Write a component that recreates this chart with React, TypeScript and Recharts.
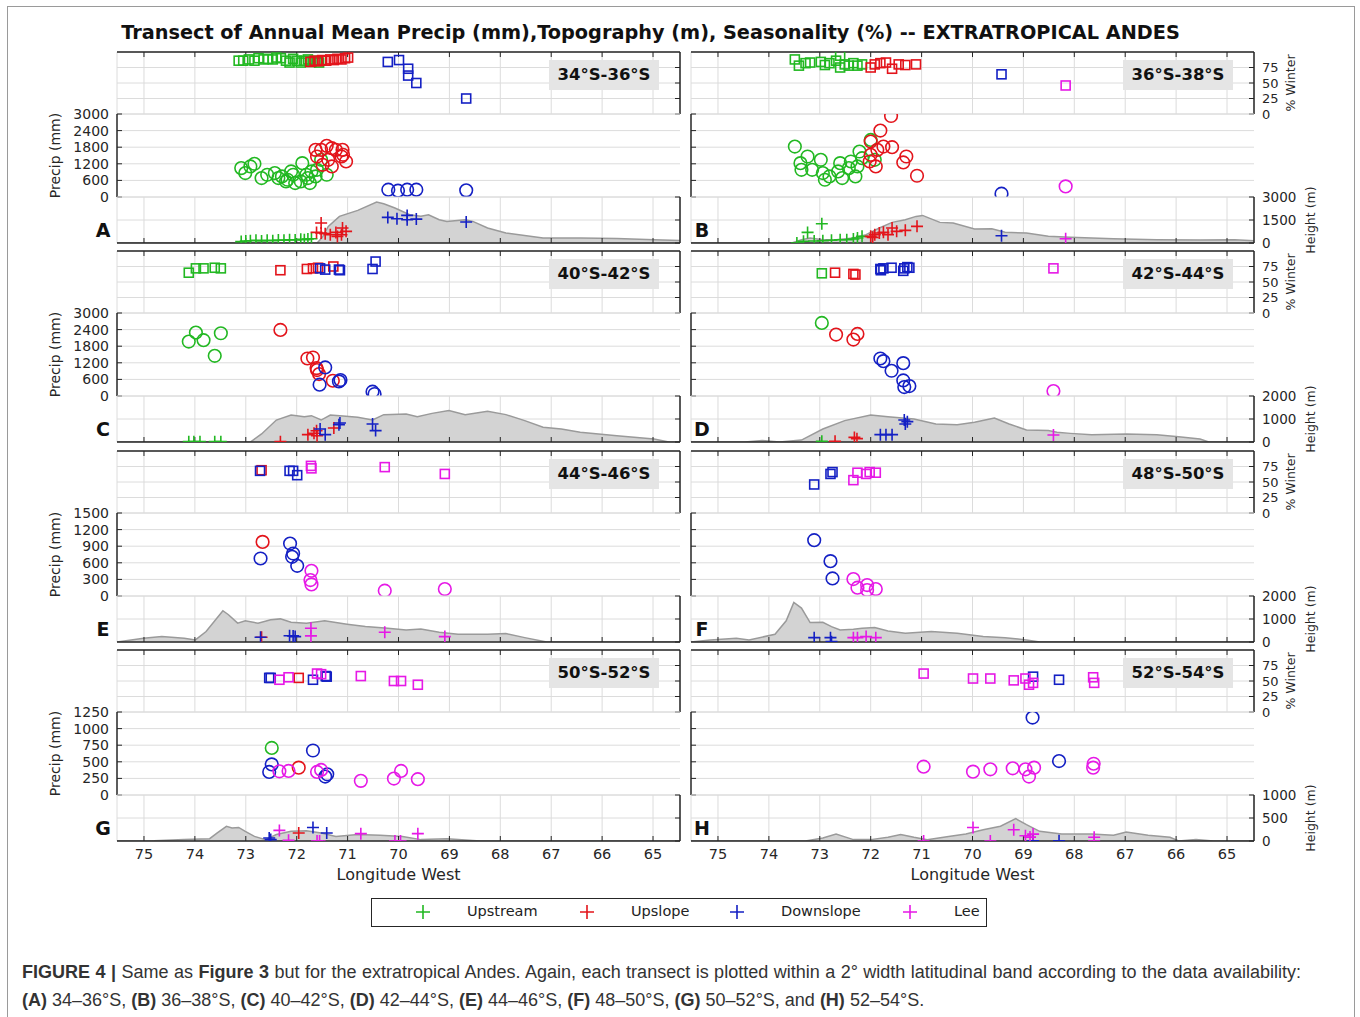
import React from 'react'
import { ComposedChart, Scatter, Area, XAxis, YAxis, CartesianGrid } from 'recharts'

// station class: upstream, upslope, downslope, lee
type Cat = 'up' | 'us' | 'ds' | 'lee'
type Row = [number, number, Cat]
type Topo = [number, number]

const CATEGORIES: { id: Cat; name: string; color: string }[] = [
  { id: 'up', name: 'Upstream', color: '#22b822' },
  { id: 'us', name: 'Upslope', color: '#e3141b' },
  { id: 'ds', name: 'Downslope', color: '#1420c4' },
  { id: 'lee', name: 'Lee', color: '#e619e6' },
]

const LON_TICKS = [65, 66, 67, 68, 69, 70, 71, 72, 73, 74, 75]
const WINTER_TICKS = [0, 25, 50, 75]
const PRECIP_TICKS_3000 = [0, 600, 1200, 1800, 2400, 3000]
const PRECIP_TICKS_1500 = [0, 300, 600, 900, 1200, 1500]
const PRECIP_TICKS_1250 = [0, 250, 500, 750, 1000, 1250]
const HEIGHT_TICKS_3000 = [0, 1500, 3000]
const HEIGHT_TICKS_2000 = [0, 1000, 2000]
const HEIGHT_TICKS_1000 = [0, 500, 1000]

// ---- 34S-36S ----
const SEASON_A: Row[] = [
  [73.14, 86, 'up'], [73.05, 86, 'up'], [72.94, 88, 'up'], [72.83, 86, 'up'], [72.75, 90, 'up'],
  [72.65, 88, 'up'], [72.56, 89, 'up'], [72.47, 88, 'up'], [72.4, 91, 'up'], [72.31, 90, 'up'],
  [72.21, 86, 'up'], [72.14, 83, 'up'], [72.07, 89, 'up'], [72.0, 86, 'up'], [71.92, 83, 'up'],
  [71.85, 86, 'up'], [71.78, 88, 'up'], [71.71, 84, 'up'], [71.63, 86, 'up'], [71.56, 83, 'up'],
  [71.73, 84, 'us'], [71.65, 86, 'us'], [71.58, 85, 'us'], [71.5, 87, 'us'], [71.42, 86, 'us'],
  [71.34, 88, 'us'], [71.27, 87, 'us'], [71.2, 89, 'us'], [71.12, 88, 'us'], [71.05, 90, 'us'], [70.99, 91, 'us'],
  [70.21, 84, 'ds'], [69.99, 87, 'ds'], [69.81, 73, 'ds'], [69.81, 62, 'ds'], [69.65, 50, 'ds'], [68.67, 25, 'ds'],
]
const PRECIP_A: Row[] = [
  [73.09, 1044, 'up'], [73.01, 864, 'up'], [72.91, 1104, 'up'], [72.83, 1200, 'up'], [72.69, 684, 'up'],
  [72.58, 804, 'up'], [72.43, 864, 'up'], [72.36, 684, 'up'], [72.29, 744, 'up'], [72.21, 564, 'up'],
  [72.18, 624, 'up'], [72.11, 924, 'up'], [72.07, 804, 'up'], [72.03, 504, 'up'], [71.92, 564, 'up'],
  [71.89, 1224, 'up'], [71.81, 804, 'up'], [71.78, 684, 'up'], [71.74, 504, 'up'], [71.71, 924, 'up'],
  [71.63, 744, 'up'], [71.6, 984, 'up'], [71.52, 1344, 'up'], [71.41, 804, 'up'],
  [71.63, 1704, 'us'], [71.52, 1704, 'us'], [71.41, 1848, 'us'], [71.31, 1764, 'us'], [71.23, 1704, 'us'],
  [71.1, 1704, 'us'], [71.09, 1524, 'us'], [71.03, 1284, 'us'], [71.49, 1164, 'us'], [71.31, 1104, 'us'],
  [71.12, 1464, 'us'], [71.6, 1464, 'us'], [71.38, 1344, 'us'],
  [70.2, 264, 'ds'], [70.01, 228, 'ds'], [69.83, 264, 'ds'], [69.65, 264, 'ds'], [68.67, 240, 'ds'],
]
const ELEV_A: Row[] = [
  [73.09, 90, 'up'], [73.0, 130, 'up'], [72.91, 150, 'up'], [72.8, 175, 'up'], [72.69, 130, 'up'],
  [72.58, 175, 'up'], [72.47, 150, 'up'], [72.36, 195, 'up'], [72.25, 175, 'up'], [72.14, 215, 'up'],
  [72.03, 195, 'up'], [71.92, 240, 'up'], [71.85, 215, 'up'], [71.78, 260, 'up'], [71.71, 280, 'up'],
  [71.52, 1300, 'us'], [71.61, 690, 'us'], [71.52, 650, 'us'], [71.44, 610, 'us'], [71.34, 540, 'us'],
  [71.23, 690, 'us'], [71.12, 540, 'us'], [71.1, 980, 'us'], [71.03, 760, 'us'], [71.2, 430, 'us'],
  [70.21, 1670, 'ds'], [70.03, 1580, 'ds'], [69.83, 1800, 'ds'], [69.83, 1520, 'ds'], [69.65, 1560, 'ds'], [68.67, 1370, 'ds'],
]
const TOPO_A: Topo[] = [
  [75.53, 0], [71.6, 0], [71.5, 350], [71.38, 1085], [71.16, 1740], [70.8, 2130], [70.43, 2670], [70.29, 2560],
  [70.07, 2280], [69.78, 1845], [69.56, 1740], [69.41, 1845], [69.2, 1520], [69.05, 1410], [68.69, 1520],
  [68.54, 1410], [68.25, 980], [67.89, 650], [67.16, 330], [66.43, 330], [65.71, 300], [64.98, 220], [64.47, 170],
]

// ---- 36S-38S ----
const SEASON_B: Row[] = [
  [73.49, 88, 'up'], [73.41, 78, 'up'], [73.28, 82, 'up'], [73.19, 83, 'up'], [72.98, 84, 'up'],
  [72.9, 79, 'up'], [72.81, 82, 'up'], [72.68, 86, 'up'], [72.6, 94, 'up'], [72.6, 75, 'up'],
  [72.51, 80, 'up'], [72.43, 78, 'up'], [72.34, 82, 'up'], [72.26, 78, 'up'], [72.17, 80, 'up'],
  [72.0, 75, 'us'], [71.92, 80, 'us'], [71.81, 82, 'us'], [71.7, 83, 'us'], [71.58, 73, 'us'],
  [71.45, 80, 'us'], [71.32, 79, 'us'], [71.11, 80, 'us'],
  [69.43, 64, 'ds'],
  [68.17, 46, 'lee'],
]
const PRECIP_B: Row[] = [
  [73.49, 1824, 'up'], [73.38, 1224, 'up'], [73.24, 1464, 'up'], [73.36, 984, 'up'], [73.15, 984, 'up'],
  [72.98, 1344, 'up'], [72.94, 864, 'up'], [72.9, 624, 'up'], [72.81, 744, 'up'], [72.64, 924, 'up'],
  [72.6, 1224, 'up'], [72.56, 684, 'up'], [72.43, 1044, 'up'], [72.39, 1284, 'up'], [72.3, 744, 'up'],
  [72.26, 1104, 'up'], [72.22, 1644, 'up'], [72.17, 1404, 'up'], [72.0, 2064, 'up'], [71.92, 1344, 'up'],
  [71.6, 2928, 'us'], [71.81, 2400, 'us'], [72.0, 2004, 'us'], [72.0, 1524, 'us'], [71.87, 1704, 'us'],
  [71.75, 1824, 'us'], [71.58, 1800, 'us'], [72.02, 1284, 'us'], [71.9, 1104, 'us'], [71.3, 1464, 'us'],
  [71.36, 1248, 'us'], [71.09, 768, 'us'],
  [69.43, 120, 'ds'],
  [68.17, 384, 'lee'],
]
const ELEV_B: Row[] = [
  [73.45, 0, 'up'], [73.24, 690, 'up'], [72.96, 1260, 'up'], [73.32, 110, 'up'], [73.11, 130, 'up'],
  [72.94, 150, 'up'], [72.77, 175, 'up'], [72.6, 215, 'up'], [72.47, 215, 'up'], [72.34, 260, 'up'],
  [72.26, 325, 'up'], [72.17, 435, 'up'],
  [72.0, 435, 'us'], [71.92, 545, 'us'], [71.83, 650, 'us'], [71.75, 695, 'us'], [71.66, 545, 'us'],
  [71.58, 975, 'us'], [71.49, 760, 'us'], [71.32, 825, 'us'], [71.09, 1085, 'us'], [71.96, 370, 'us'],
  [69.43, 475, 'ds'],
  [68.17, 280, 'lee'],
]
const TOPO_B: Topo[] = [
  [75.53, 0], [73.55, 0], [73.36, 215], [73.19, 325], [72.94, 215], [72.68, 215], [72.34, 325], [72.09, 545],
  [71.83, 975], [71.58, 1345], [71.32, 1520], [71.11, 1735], [70.98, 1800], [70.85, 1625], [70.64, 1345],
  [70.38, 1300], [69.96, 910], [69.62, 935], [69.36, 695], [68.94, 650], [68.51, 435], [68.08, 370],
  [67.23, 280], [66.38, 215], [65.53, 195], [64.85, 215], [64.47, 150],
]

// ---- 40S-42S ----
const SEASON_C: Row[] = [
  [74.12, 65, 'up'], [73.98, 72, 'up'], [73.83, 72, 'up'], [73.61, 73, 'up'], [73.49, 72, 'up'],
  [72.32, 69, 'us'], [71.8, 71, 'us'], [71.68, 72, 'us'], [71.58, 73, 'us'], [71.28, 75, 'us'],
  [71.54, 72, 'ds'], [71.44, 70, 'ds'], [71.17, 70, 'ds'], [71.15, 69, 'ds'], [70.51, 71, 'ds'], [70.45, 83, 'ds'],
]
const PRECIP_C: Row[] = [
  [74.12, 1968, 'up'], [73.98, 2292, 'up'], [73.83, 2016, 'up'], [73.49, 2268, 'up'], [73.61, 1452, 'up'],
  [72.32, 2388, 'us'], [71.79, 1356, 'us'], [71.68, 1392, 'us'], [71.6, 936, 'us'], [71.56, 792, 'us'],
  [71.29, 552, 'us'], [71.61, 1008, 'us'],
  [71.44, 1032, 'ds'], [71.55, 408, 'ds'], [71.17, 528, 'ds'], [71.14, 576, 'ds'], [70.51, 156, 'ds'], [70.47, 72, 'ds'],
]
const ELEV_C: Row[] = [
  [74.12, 15, 'up'], [74.02, 15, 'up'], [73.9, 15, 'up'], [73.61, 15, 'up'], [73.49, 15, 'up'],
  [72.32, 15, 'us'], [71.78, 320, 'us'], [71.61, 490, 'us'], [71.6, 275, 'us'], [71.27, 610, 'us'], [71.66, 380, 'us'],
  [71.54, 565, 'ds'], [71.44, 320, 'ds'], [71.17, 755, 'ds'], [71.15, 825, 'ds'], [70.51, 785, 'ds'], [70.45, 495, 'ds'],
]
const TOPO_C: Topo[] = [
  [75.53, 0], [72.91, 0], [72.69, 350], [72.4, 955], [72.11, 1175], [71.85, 1100], [71.71, 1145], [71.52, 955],
  [71.34, 1175], [71.09, 1130], [70.8, 1075], [70.51, 955], [70.29, 1190], [69.85, 1220], [69.63, 1100],
  [69.34, 1245], [69.01, 1365], [68.69, 1190], [68.25, 1335], [67.89, 1190], [67.52, 930], [67.16, 640],
  [66.8, 565], [66.43, 420], [65.71, 275], [64.98, 130], [64.69, 0], [64.47, 0],
]

// ---- 42S-44S ----
const SEASON_D: Row[] = [
  [72.96, 64, 'up'],
  [72.7, 65, 'us'], [72.34, 63, 'us'], [72.3, 62, 'us'],
  [71.81, 71, 'ds'], [71.75, 72, 'ds'], [71.59, 73, 'ds'], [71.36, 68, 'ds'], [71.34, 72, 'ds'],
  [71.28, 74, 'ds'], [71.24, 73, 'ds'], [71.8, 69, 'ds'],
  [68.41, 72, 'lee'],
]
const PRECIP_D: Row[] = [
  [72.96, 2640, 'up'],
  [72.68, 2220, 'us'], [72.34, 2040, 'us'], [72.26, 2244, 'us'],
  [71.81, 1356, 'ds'], [71.75, 1260, 'ds'], [71.59, 912, 'ds'], [71.36, 1188, 'ds'], [71.36, 564, 'ds'],
  [71.34, 324, 'ds'], [71.24, 360, 'ds'],
  [68.41, 180, 'lee'],
]
const ELEV_D: Row[] = [
  [72.96, 30, 'up'],
  [72.7, 30, 'us'], [72.32, 200, 'us'], [72.27, 145, 'us'],
  [71.81, 320, 'ds'], [71.7, 320, 'ds'], [71.58, 320, 'ds'], [71.34, 955, 'ds'], [71.28, 885, 'ds'], [71.32, 785, 'ds'],
  [68.41, 305, 'lee'],
]
const TOPO_D: Topo[] = [
  [75.53, 0], [74.47, 0], [74.13, 60], [73.79, 0], [73.36, 85], [72.94, 565], [72.51, 930], [72.0, 1175],
  [71.66, 1100], [71.15, 1000], [70.72, 785], [70.3, 755], [69.96, 855], [69.57, 1045], [69.28, 785],
  [68.94, 520], [68.51, 495], [68.34, 420], [68.08, 375], [67.66, 320], [66.98, 350], [66.38, 320],
  [65.95, 230], [65.53, 130], [65.36, 0], [64.47, 0],
]

// ---- 44S-46S ----
const SEASON_E: Row[] = [
  [72.69, 69, 'us'],
  [72.72, 68, 'ds'], [72.14, 68, 'ds'], [72.07, 68, 'ds'], [71.99, 61, 'ds'],
  [71.72, 76, 'lee'], [71.71, 72, 'lee'], [70.27, 74, 'lee'], [69.09, 63, 'lee'],
]
const PRECIP_E: Row[] = [
  [72.67, 978, 'us'],
  [72.71, 678, 'ds'], [72.13, 948, 'ds'], [72.07, 768, 'ds'], [72.09, 708, 'ds'], [71.99, 546, 'ds'],
  [71.71, 456, 'lee'], [71.73, 288, 'lee'], [71.71, 210, 'lee'], [70.27, 96, 'lee'], [69.09, 126, 'lee'],
]
const ELEV_E: Row[] = [
  [72.69, 205, 'us'],
  [72.71, 205, 'ds'], [72.14, 275, 'ds'], [72.07, 265, 'ds'], [72.03, 235, 'ds'],
  [71.72, 600, 'lee'], [71.72, 265, 'lee'], [70.27, 425, 'lee'], [69.09, 235, 'lee'],
]
const TOPO_E: Topo[] = [
  [75.53, 0], [75.01, 160], [74.65, 235], [74.21, 160], [73.99, 90], [73.78, 455], [73.45, 1360], [73.34, 1185],
  [73.16, 820], [73.01, 920], [72.76, 820], [72.51, 965], [72.32, 1005], [72.11, 860], [71.81, 820],
  [71.45, 920], [71.01, 775], [70.65, 670], [70.21, 600], [69.85, 525], [69.56, 570], [69.2, 425],
  [68.83, 335], [68.25, 335], [67.89, 365], [67.52, 190], [67.09, 0], [64.47, 0],
]

// ---- 48S-50S ----
const SEASON_F: Row[] = [
  [73.11, 46, 'ds'], [72.79, 63, 'ds'], [72.75, 66, 'ds'],
  [72.34, 53, 'lee'], [72.26, 65, 'lee'], [72.09, 63, 'lee'], [72.02, 66, 'lee'], [71.9, 65, 'lee'],
]
const PRECIP_F: Row[] = [
  [73.11, 1008, 'ds'], [72.79, 630, 'ds'], [72.75, 318, 'ds'],
  [72.34, 306, 'lee'], [72.26, 150, 'lee'], [72.07, 198, 'lee'], [72.07, 108, 'lee'], [71.9, 126, 'lee'],
]
const ELEV_F: Row[] = [
  [73.11, 190, 'ds'], [72.79, 190, 'ds'], [72.77, 15, 'ds'],
  [72.34, 190, 'lee'], [72.26, 190, 'lee'], [72.09, 235, 'lee'], [71.9, 190, 'lee'],
]
const TOPO_F: Topo[] = [
  [75.53, 0], [75.15, 90], [74.64, 160], [74.39, 90], [73.88, 335], [73.66, 920], [73.51, 1720], [73.36, 1475],
  [73.19, 845], [72.94, 860], [72.77, 670], [72.6, 525], [72.34, 555], [72.17, 600], [71.92, 630],
  [71.66, 480], [71.32, 380], [70.81, 455], [70.3, 380], [69.79, 235], [69.36, 190], [68.94, 90], [68.68, 0], [64.47, 0],
]

// ---- 50S-52S ----
const SEASON_G: Row[] = [
  [71.96, 55, 'us'],
  [72.54, 55, 'ds'], [72.51, 55, 'ds'], [71.68, 52, 'ds'], [71.41, 57, 'ds'], [71.43, 58, 'ds'],
  [72.34, 52, 'lee'], [72.16, 56, 'lee'], [71.6, 62, 'lee'], [71.52, 61, 'lee'], [70.74, 58, 'lee'],
  [70.09, 50, 'lee'], [69.95, 50, 'lee'], [69.62, 44, 'lee'],
]
const PRECIP_G: Row[] = [
  [72.49, 709, 'up'],
  [71.96, 412, 'us'],
  [71.68, 670, 'ds'], [72.49, 461, 'ds'], [72.54, 347, 'ds'], [71.4, 312, 'ds'], [71.44, 278, 'ds'],
  [72.34, 357, 'lee'], [72.16, 362, 'lee'], [71.6, 347, 'lee'], [71.52, 377, 'lee'], [70.74, 213, 'lee'],
  [70.09, 248, 'lee'], [69.95, 362, 'lee'], [69.62, 238, 'lee'],
]
const ELEV_G: Row[] = [
  [71.96, 175, 'us'],
  [72.54, 65, 'ds'], [72.51, 30, 'ds'], [71.68, 295, 'ds'], [71.41, 175, 'ds'],
  [72.34, 230, 'lee'], [72.16, 15, 'lee'], [71.55, 0, 'lee'], [71.6, 0, 'lee'], [70.74, 160, 'lee'],
  [70.07, 0, 'lee'], [69.96, 0, 'lee'], [69.62, 160, 'lee'],
]
const TOPO_G: Topo[] = [
  [75.53, 0], [74.8, 5], [74.21, 30], [73.71, 50], [73.56, 175], [73.38, 320], [73.27, 285], [73.14, 295],
  [73.01, 210], [72.83, 100], [72.61, 30], [72.4, 140], [72.11, 210], [71.81, 225], [71.52, 175],
  [71.23, 100], [70.8, 140], [70.36, 125], [69.92, 100], [69.56, 30], [69.05, 50], [68.61, 15], [68.4, 0], [64.47, 0],
]

// ---- 52S-54S ----
const SEASON_H: Row[] = [
  [68.81, 57, 'ds'], [68.3, 52, 'ds'],
  [70.96, 62, 'lee'], [69.99, 54, 'lee'], [69.65, 54, 'lee'], [69.19, 51, 'lee'], [68.96, 54, 'lee'],
  [68.89, 44, 'lee'], [68.81, 47, 'lee'], [67.63, 56, 'lee'], [67.61, 47, 'lee'],
]
const PRECIP_H: Row[] = [
  [68.82, 1166, 'ds'], [68.3, 511, 'ds'],
  [70.96, 427, 'lee'], [69.99, 352, 'lee'], [69.65, 387, 'lee'], [69.21, 402, 'lee'], [68.96, 387, 'lee'],
  [68.79, 412, 'lee'], [68.89, 278, 'lee'], [67.62, 471, 'lee'], [67.63, 412, 'lee'],
]
const ELEV_H: Row[] = [
  [68.81, 5, 'ds'], [68.3, 5, 'ds'],
  [70.96, 0, 'lee'], [69.99, 295, 'lee'], [69.65, 0, 'lee'], [69.19, 245, 'lee'], [68.96, 115, 'lee'],
  [68.81, 150, 'lee'], [68.87, 85, 'lee'], [67.61, 80, 'lee'], [67.61, 0, 'lee'],
]
const TOPO_H: Topo[] = [
  [75.53, 0], [73.28, 0], [72.94, 65], [72.68, 150], [72.34, 30], [72.0, 30], [71.66, 80], [71.41, 140],
  [71.15, 80], [70.89, 30], [70.47, 100], [70.13, 150], [69.79, 245], [69.45, 320], [69.15, 485],
  [68.94, 355], [68.68, 210], [68.25, 150], [67.66, 150], [67.23, 125], [66.98, 195], [66.55, 125],
  [66.12, 80], [65.95, 0], [65.61, 30], [65.27, 0], [64.47, 0],
]

type PanelDef = {
  letter: string
  band: string
  col: number
  row: number
  season: Row[]
  precip: Row[]
  elev: Row[]
  topo: Topo[]
  pTicks: number[]
  hTicks: number[]
}

const PANELS: PanelDef[] = [
  { letter: 'A', band: '34°S-36°S', col: 0, row: 0, season: SEASON_A, precip: PRECIP_A, elev: ELEV_A, topo: TOPO_A, pTicks: PRECIP_TICKS_3000, hTicks: HEIGHT_TICKS_3000 },
  { letter: 'B', band: '36°S-38°S', col: 1, row: 0, season: SEASON_B, precip: PRECIP_B, elev: ELEV_B, topo: TOPO_B, pTicks: PRECIP_TICKS_3000, hTicks: HEIGHT_TICKS_3000 },
  { letter: 'C', band: '40°S-42°S', col: 0, row: 1, season: SEASON_C, precip: PRECIP_C, elev: ELEV_C, topo: TOPO_C, pTicks: PRECIP_TICKS_3000, hTicks: HEIGHT_TICKS_2000 },
  { letter: 'D', band: '42°S-44°S', col: 1, row: 1, season: SEASON_D, precip: PRECIP_D, elev: ELEV_D, topo: TOPO_D, pTicks: PRECIP_TICKS_3000, hTicks: HEIGHT_TICKS_2000 },
  { letter: 'E', band: '44°S-46°S', col: 0, row: 2, season: SEASON_E, precip: PRECIP_E, elev: ELEV_E, topo: TOPO_E, pTicks: PRECIP_TICKS_1500, hTicks: HEIGHT_TICKS_2000 },
  { letter: 'F', band: '48°S-50°S', col: 1, row: 2, season: SEASON_F, precip: PRECIP_F, elev: ELEV_F, topo: TOPO_F, pTicks: PRECIP_TICKS_1500, hTicks: HEIGHT_TICKS_2000 },
  { letter: 'G', band: '50°S-52°S', col: 0, row: 3, season: SEASON_G, precip: PRECIP_G, elev: ELEV_G, topo: TOPO_G, pTicks: PRECIP_TICKS_1250, hTicks: HEIGHT_TICKS_1000 },
  { letter: 'H', band: '52°S-54°S', col: 1, row: 3, season: SEASON_H, precip: PRECIP_H, elev: ELEV_H, topo: TOPO_H, pTicks: PRECIP_TICKS_1250, hTicks: HEIGHT_TICKS_1000 },
]

// layout
const INK = '#262626'
const GRID = '#dcdcdc'
const LON_DOMAIN: [number, number] = [64.47, 75.53]
const PLOT_W = 563
const LW = 124 // left axis band (tick labels + "Precip (mm)")
const PAD = 12
const COL_X = [117, 691]
const ROW_Y = [52, 251, 451, 650]
const BOX_SEAS = 62
const BOX_PREC = 83
const BOX_ELEV = 46
const FONT = '"DejaVu Sans", sans-serif'

const pick = (rows: Row[], c: Cat) => rows.filter((r) => r[2] === c).map(([lon, v]) => ({ lon, v }))
const noLabel = () => ''

const squareMark = (color: string) => (p: any) => (
  <rect x={p.cx - 4.5} y={p.cy - 4.5} width={9} height={9} fill="none" stroke={color} strokeWidth={1.6} />
)
const ringMark = (color: string) => (p: any) => (
  <circle cx={p.cx} cy={p.cy} r={6.3} fill="none" stroke={color} strokeWidth={1.6} />
)
const plusMark = (color: string) => (p: any) => (
  <path d={`M${p.cx - 6},${p.cy}H${p.cx + 6}M${p.cx},${p.cy - 6}V${p.cy + 6}`} stroke={color} strokeWidth={1.6} fill="none" />
)

const frameLine = { stroke: INK, strokeWidth: 1.5 }
const tickLine = { stroke: INK, strokeWidth: 1 }
const tickText = (size: number) => ({ fill: INK, fontSize: size })
const blankAxis = { axisLine: false, tickLine: false, tick: false, domain: [0, 1] as [number, number] }

function SeasonBox({ p }: { p: PanelDef }) {
  const x = COL_X[p.col]
  const y = ROW_Y[p.row]
  const showRight = p.col === 1
  const RW = 74
  return (
    <div style={{ position: 'absolute', left: x - LW, top: y - PAD }}>
      <ComposedChart width={LW + PLOT_W + RW} height={BOX_SEAS + 2 * PAD} margin={{ top: PAD - 1, bottom: PAD, left: 0, right: 0 }}>
        <CartesianGrid xAxisId="t" yAxisId="r" stroke={GRID} />
        <XAxis xAxisId="t" orientation="top" type="number" dataKey="lon" domain={LON_DOMAIN} reversed ticks={LON_TICKS}
          interval={0} allowDataOverflow height={1} tick={tickText(1)} tickFormatter={noLabel} tickSize={-5}
          axisLine={frameLine} tickLine={tickLine} />
        <YAxis yAxisId="l" width={LW} {...blankAxis} />
        <YAxis yAxisId="r" orientation="right" width={RW} type="number" dataKey="v" domain={[0, 100]} ticks={WINTER_TICKS}
          interval={0} allowDataOverflow axisLine={frameLine} tickLine={tickLine} tickSize={-5} tickMargin={13}
          tick={tickText(13)} tickFormatter={showRight ? undefined : noLabel}
          label={showRight ? { value: '% Winter', angle: -90, position: 'center', fill: INK, fontSize: 12.5 } : undefined} />
        {CATEGORIES.map((c) => (
          <Scatter key={c.id} xAxisId="t" yAxisId="r" data={pick(p.season, c.id)} shape={squareMark(c.color)} isAnimationActive={false} />
        ))}
      </ComposedChart>
    </div>
  )
}

function PrecipBox({ p }: { p: PanelDef }) {
  const x = COL_X[p.col]
  const y = ROW_Y[p.row] + BOX_SEAS
  const showLeft = p.col === 0
  const RW = 74
  const top = p.pTicks[p.pTicks.length - 1]
  return (
    <div style={{ position: 'absolute', left: x - LW, top: y - PAD }}>
      <ComposedChart width={LW + PLOT_W + RW} height={BOX_PREC + 2 * PAD} margin={{ top: PAD, bottom: PAD, left: 0, right: 0 }}>
        <CartesianGrid xAxisId="x" yAxisId="l" vertical={false} stroke={GRID} />
        <XAxis xAxisId="x" type="number" dataKey="lon" domain={LON_DOMAIN} reversed allowDataOverflow hide />
        <YAxis yAxisId="l" width={LW} type="number" dataKey="v" domain={[0, top]} ticks={p.pTicks} interval={0}
          allowDataOverflow axisLine={frameLine} tickLine={tickLine} tickSize={-5} tickMargin={13}
          tick={tickText(14)} tickFormatter={showLeft ? undefined : noLabel}
          label={showLeft ? { value: 'Precip (mm)', angle: -90, position: 'center', fill: INK, fontSize: 14 } : undefined} />
        <YAxis yAxisId="r" orientation="right" width={RW} {...blankAxis} />
        {CATEGORIES.map((c) => (
          <Scatter key={c.id} xAxisId="x" yAxisId="l" data={pick(p.precip, c.id)} shape={ringMark(c.color)} isAnimationActive={false} />
        ))}
      </ComposedChart>
    </div>
  )
}

function HeightBox({ p }: { p: PanelDef }) {
  const x = COL_X[p.col]
  const y = ROW_Y[p.row] + BOX_SEAS + BOX_PREC
  const showRight = p.col === 1
  const showLon = p.row === 3
  const RW = 114
  const BOTTOM = showLon ? 50 : PAD
  const top = p.hTicks[p.hTicks.length - 1]
  const topo = p.topo.map(([lon, v]) => ({ lon, v }))
  return (
    <div style={{ position: 'absolute', left: x - LW, top: y - PAD }}>
      <ComposedChart width={LW + PLOT_W + RW} height={BOX_ELEV + PAD + BOTTOM} margin={{ top: PAD, bottom: BOTTOM - 1, left: 0, right: 0 }}>
        <CartesianGrid xAxisId="b" yAxisId="r" stroke={GRID} />
        <XAxis xAxisId="b" type="number" dataKey="lon" domain={LON_DOMAIN} reversed ticks={LON_TICKS} interval={0}
          allowDataOverflow height={1} axisLine={frameLine} tickLine={tickLine} tickSize={-5} tickMargin={13}
          tick={tickText(14.5)} tickFormatter={showLon ? undefined : noLabel}
          label={showLon ? { value: 'Longitude West', position: 'bottom', offset: 27, fill: INK, fontSize: 16 } : undefined} />
        <YAxis yAxisId="l" width={LW} {...blankAxis} />
        <YAxis yAxisId="r" orientation="right" width={RW} type="number" dataKey="v" domain={[0, top]} ticks={p.hTicks}
          interval={0} allowDataOverflow axisLine={frameLine} tickLine={tickLine} tickSize={-5} tickMargin={13}
          tick={tickText(13.5)} tickFormatter={showRight ? undefined : noLabel}
          label={showRight ? { value: 'Height (m)', angle: -90, position: 'center', fill: INK, fontSize: 12.5 } : undefined} />
        <Area xAxisId="b" yAxisId="r" data={topo} dataKey="v" type="linear" fill="#d3d3d3" fillOpacity={1}
          stroke="#9a9a9a" strokeWidth={1.5} isAnimationActive={false} />
        {CATEGORIES.map((c) => (
          <Scatter key={c.id} xAxisId="b" yAxisId="r" data={pick(p.elev, c.id)} shape={plusMark(c.color)} isAnimationActive={false} />
        ))}
      </ComposedChart>
    </div>
  )
}

function Panel({ p }: { p: PanelDef }) {
  const x = COL_X[p.col]
  const y = ROW_Y[p.row]
  const letterX = p.col === 0 ? x - 24 : x + 1
  return (
    <>
      <SeasonBox p={p} />
      <PrecipBox p={p} />
      <HeightBox p={p} />
      <div style={{
        position: 'absolute', left: x + PLOT_W - 21 - 110, top: y + 8, width: 110, height: 30,
        background: '#e5e5e5', color: '#111', fontWeight: 700, fontSize: 16.5, lineHeight: '30px', textAlign: 'center',
      }}>
        {p.band}
      </div>
      <div style={{
        position: 'absolute', left: letterX, top: y + BOX_SEAS + BOX_PREC + 22, width: 20, textAlign: 'center',
        fontWeight: 700, fontSize: 19, lineHeight: '22px', color: '#111',
      }}>
        {p.letter}
      </div>
    </>
  )
}

function LegendBox() {
  const slots = [422, 586, 736, 909]
  return (
    <div style={{ position: 'absolute', left: 371, top: 898, width: 614, height: 27, border: `1.5px solid ${INK}` }}>
      {CATEGORIES.map((c, i) => (
        <React.Fragment key={c.id}>
          <svg width={16} height={16} style={{ position: 'absolute', left: slots[i] - 371 - 8, top: 5 }}>
            <path d="M1,8H15M8,1V15" stroke={c.color} strokeWidth={1.6} />
          </svg>
          <span style={{ position: 'absolute', left: slots[i] - 371 + 44, top: 4, fontSize: 14.5, color: '#222', whiteSpace: 'nowrap' }}>
            {c.name}
          </span>
        </React.Fragment>
      ))}
    </div>
  )
}

export default function App() {
  return (
    <div style={{
      position: 'absolute', left: 0, top: 0, width: 1360, height: 1017, overflow: 'hidden',
      background: '#fff', fontFamily: FONT,
    }}>
      <div style={{ position: 'absolute', left: 7, top: 6, width: 1346, height: 1040, border: '1px solid #9a9a9a' }} />
      <div style={{
        position: 'absolute', left: 0, top: 21, width: 1301, textAlign: 'center', fontWeight: 700,
        fontSize: 19.3, lineHeight: '24px', color: '#111', whiteSpace: 'nowrap',
      }}>
        Transect of Annual Mean Precip (mm),Topography (m), Seasonality (%) -- EXTRATROPICAL ANDES
      </div>
      {PANELS.map((p) => (
        <Panel key={p.letter} p={p} />
      ))}
      <LegendBox />
      {/* caption: first line justified to the column width, last line ragged */}
      <div style={{
        position: 'absolute', left: 22, top: 958, width: 1279, fontFamily: '"Liberation Sans", Arial, sans-serif',
        fontSize: 18, lineHeight: '28px', color: '#333',
      }}>
        <div style={{ textAlign: 'justify', textAlignLast: 'justify', whiteSpace: 'nowrap' }}>
          <b>FIGURE 4 |</b> Same as <b>Figure 3</b> but for the extratropical Andes. Again, each transect is plotted within a 2° width latitudinal band according to the data availability:
        </div>
        <div style={{ whiteSpace: 'nowrap' }}>
          <b>(A)</b> 34–36°S, <b>(B)</b> 36–38°S, <b>(C)</b> 40–42°S, <b>(D)</b> 42–44°S, <b>(E)</b> 44–46°S, <b>(F)</b> 48–50°S, <b>(G)</b> 50–52°S, and <b>(H)</b> 52–54°S.
        </div>
      </div>
    </div>
  )
}
